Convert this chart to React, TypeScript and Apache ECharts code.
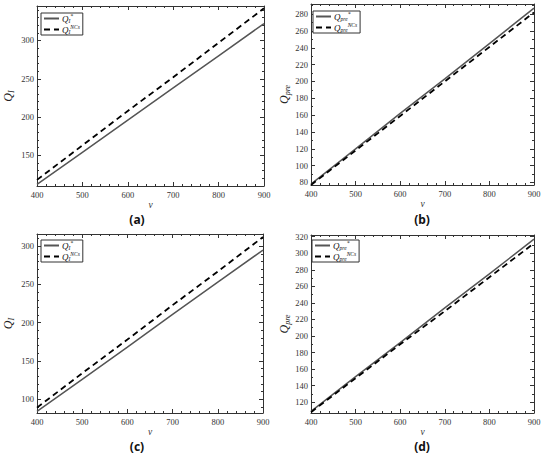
import React, { useEffect, useRef } from "react";
import * as echarts from "echarts";

const vValues = [400, 500, 600, 700, 800, 900];
const xTickValues = [400, 500, 600, 700, 800, 900];

const aSolid = [112, 154, 196, 238, 280, 322];
const aDashed = [118, 163, 208, 252, 297, 342];
const bSolid = [78, 120, 162, 203, 245, 287];
const bDashed = [77, 118, 159, 200, 241, 282];
const cSolid = [84, 126, 168, 211, 253, 295];
const cDashed = [89, 134, 178, 223, 267, 312];
const dSolid = [109, 151, 192, 234, 275, 317];
const dDashed = [108, 149, 190, 230, 271, 312];

const panelLabels = ["(a)", "(b)", "(c)", "(d)"];
const yNameSubs = ["I", "pre", "I", "pre"];
const yMins = [110, 77, 82, 107];
const yMaxs = [345, 292, 316, 322];
const ySplits = [5, 10, 5, 10];
const yMinorSplits = [5, 2, 5, 2];

const SERIF = "Liberation Serif, Times New Roman, serif";

export default function App() {
  const ref = useRef<HTMLDivElement>(null);
  useEffect(() => {
    if (!ref.current) return;
    const chart = echarts.init(ref.current, null, { renderer: "svg" });

    const grids = [
      { left: 37, top: 6, width: 227, height: 180 },
      { left: 311, top: 4, width: 223, height: 181 },
      { left: 37, top: 234, width: 226, height: 179 },
      { left: 311, top: 235, width: 223, height: 178 },
    ];
    const legendPos = [
      { left: 41, top: 13 },
      { left: 313, top: 11 },
      { left: 41, top: 240 },
      { left: 312, top: 240 },
    ];
    const labelPos = [
      { x: 137, y: 219 },
      { x: 422, y: 219 },
      { x: 137, y: 446 },
      { x: 422, y: 446 },
    ];
    const nameGaps = [13, 13, 11, 11];
    const solids = [aSolid, bSolid, cSolid, dSolid];
    const dashes = [aDashed, bDashed, cDashed, dDashed];

    const axisLine = { show: true, lineStyle: { color: "#333", width: 1 } };
    const tick = { show: true, inside: true, length: 4, lineStyle: { color: "#333" } };

    const xAxis: any[] = [];
    const yAxis: any[] = [];
    const series: any[] = [];
    const legend: any[] = [];
    const graphic: any[] = [];

    const rich = {
      q: { fontFamily: SERIF, fontStyle: "italic", fontSize: 9, color: "#111", lineHeight: 11 },
      sub: { fontFamily: SERIF, fontStyle: "italic", fontSize: 5.5, color: "#111", verticalAlign: "bottom", lineHeight: 11 },
      sup: { fontFamily: SERIF, fontStyle: "italic", fontSize: 5.5, color: "#111", verticalAlign: "top", lineHeight: 11 },
    };

    for (let p = 0; p < 4; p++) {
      const sub = yNameSubs[p];
      xAxis.push({
        type: "value",
        gridIndex: p,
        position: "bottom",
        min: xTickValues[0],
        max: xTickValues[xTickValues.length - 1],
        interval: 100,
        axisLine,
        axisTick: tick,
        minorTick: { show: true, splitNumber: 5, length: 2, lineStyle: { color: "#333" } },
        splitLine: { show: false },
        axisLabel: { fontFamily: SERIF, fontSize: 8.5, color: "#333", margin: 4 },
        name: "v",
        nameLocation: "middle",
        nameGap: nameGaps[p],
        nameTextStyle: { fontFamily: SERIF, fontStyle: "italic", fontSize: 9.5, color: "#333" },
      });
      xAxis.push({
        type: "value",
        gridIndex: p,
        position: "top",
        min: xTickValues[0],
        max: xTickValues[xTickValues.length - 1],
        interval: 100,
        axisLine,
        axisTick: tick,
        minorTick: { show: true, splitNumber: 5, length: 2, lineStyle: { color: "#333" } },
        splitLine: { show: false },
        axisLabel: { show: false },
      });
      yAxis.push({
        type: "value",
        gridIndex: p,
        position: "left",
        min: yMins[p],
        max: yMaxs[p],
        splitNumber: ySplits[p],
        axisLine,
        axisTick: tick,
        minorTick: { show: true, splitNumber: yMinorSplits[p], length: 2, lineStyle: { color: "#333" } },
        splitLine: { show: false },
        axisLabel: {
          fontFamily: SERIF,
          fontSize: 8.5,
          color: "#333",
          margin: 3,
          showMinLabel: false,
          showMaxLabel: false,
        },
        name: `{q|Q}{s|${sub}}`,
        nameLocation: "middle",
        nameGap: sub === "I" ? 22 : 20,
        nameRotate: 90,
        nameTextStyle: {
          rich: {
            q: { fontFamily: SERIF, fontStyle: "italic", fontSize: 12, color: "#222", lineHeight: 14 },
            s: { fontFamily: SERIF, fontStyle: "italic", fontSize: 8, color: "#222", verticalAlign: "bottom", lineHeight: 14 },
          },
        },
      });
      yAxis.push({
        type: "value",
        gridIndex: p,
        position: "right",
        min: yMins[p],
        max: yMaxs[p],
        splitNumber: ySplits[p],
        axisLine,
        axisTick: tick,
        minorTick: { show: true, splitNumber: yMinorSplits[p], length: 2, lineStyle: { color: "#333" } },
        splitLine: { show: false },
        axisLabel: { show: false },
      });

      const nSolid = `s${p}`;
      const nDash = `d${p}`;
      series.push({
        name: nSolid,
        type: "line",
        xAxisIndex: p * 2,
        yAxisIndex: p * 2,
        data: vValues.map((v, i) => [v, solids[p][i]]),
        symbol: "none",
        lineStyle: { color: "#555", width: 1.5, type: "solid" },
        itemStyle: { color: "#555" },
        z: 2,
      });
      series.push({
        name: nDash,
        type: "line",
        xAxisIndex: p * 2,
        yAxisIndex: p * 2,
        data: vValues.map((v, i) => [v, dashes[p][i]]),
        symbol: "none",
        lineStyle: { color: "#000", width: 1.8, type: [6, 4] },
        itemStyle: { color: "#000" },
        z: 3,
      });

      legend.push({
        data: [nSolid, nDash],
        left: legendPos[p].left,
        top: legendPos[p].top,
        orient: "vertical",
        itemWidth: 15,
        itemHeight: 6,
        itemGap: 0,
        padding: [0, 3, 0, 2],
        borderColor: "#333",
        borderWidth: 1,
        backgroundColor: "#fff",
        selectedMode: false,
        itemStyle: { opacity: 0 },
        textStyle: { rich, padding: [0, 0, 0, -2] },
        formatter: (name: string) => {
          if (name.startsWith("s")) return `{q|Q}{sub|${sub}}{sup|*}`;
          return `{q|Q}{sub|${sub}}{sup|NCs}`;
        },
      });

      graphic.push({
        type: "text",
        x: labelPos[p].x,
        y: labelPos[p].y,
        style: {
          text: panelLabels[p],
          fontFamily: "Noto Sans, Open Sans, sans-serif",
          fontSize: 12,
          fontWeight: "bold",
          fill: "#111",
          align: "center",
          verticalAlign: "middle",
        },
      });
    }

    chart.setOption({
      animation: false,
      backgroundColor: "#fff",
      grid: grids,
      xAxis,
      yAxis,
      series,
      legend,
      graphic,
    });
    return () => chart.dispose();
  }, []);

  return (
    <div
      ref={ref}
      style={{ position: "fixed", left: 0, top: 0, width: 550, height: 462 }}
    />
  );
}
